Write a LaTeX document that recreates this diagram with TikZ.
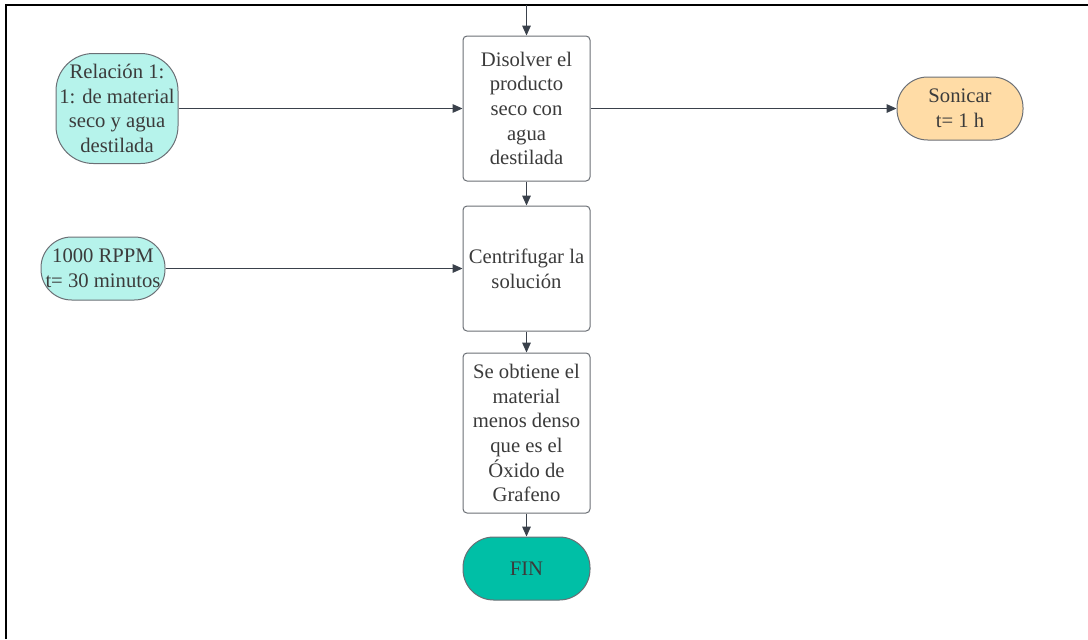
\documentclass[tikz,border=0pt]{standalone}
\usepackage{fontspec}
\setmainfont{Liberation Serif}
\usetikzlibrary{arrows.meta}
\definecolor{strokec}{HTML}{6B6F75}
\definecolor{arrowc}{HTML}{3A414B}
\definecolor{textc}{HTML}{3B3B3B}
\definecolor{cyanf}{HTML}{B6F3EB}
\definecolor{orangef}{HTML}{FFDCA6}
\definecolor{tealf}{HTML}{00BFA6}
\tikzset{
  base/.style={draw=strokec, line width=0.75pt, text=textc, align=center, inner sep=0pt,
    font=\fontsize{15.5}{18.5}\selectfont},
  procbox/.style={base, rounded corners=3pt, minimum width=95.25pt, fill=white},
  pill/.style={base, rounded corners=23pt, minimum height=47.25pt},
  arr/.style={draw=arrowc, line width=0.75pt, -{Triangle[length=7.5pt,width=6.5pt]}},
}
\begin{document}
\begin{tikzpicture}[x=0.75pt,y=-0.75pt]
\useasboundingbox (0,0) rectangle (1088,639);
\draw[black, line width=1.6pt] (6,639) -- (6,5) -- (1088,5);
\coordinate (top) at (526.5,5);
\node[procbox, minimum height=108.75pt] (b1) at (526.5,108.5) {Disolver el\\producto\\seco con\\agua\\destilada};
\node[procbox, minimum height=93.75pt] (b2) at (526.5,268.5) {Centrifugar la\\soluci\'on};
\node[procbox, minimum height=120pt] (b3) at (526.5,433) {Se obtiene el\\material\\menos denso\\que es el\\\'Oxido de\\Grafeno};
\node[pill, fill=tealf, minimum width=95.25pt] (fin) at (526.5,568.5) {FIN};
\node[base, fill=cyanf, rounded corners=28pt, minimum width=91.5pt, minimum height=82.5pt] (rel) at (117,108.5) {Relaci\'on 1:\\1: de material\\seco y agua\\destilada};
\node[pill, fill=cyanf, minimum width=93pt] (rpm) at (103,268.5) {1000 RPPM\\t= 30 minutos};
\node[pill, fill=orangef, minimum width=94.5pt] (son) at (960,108.5) {Sonicar\\t= 1 h};
\draw[arr] (top) -- (b1.north);
\draw[arr] (b1.south) -- (b2.north);
\draw[arr] (b2.south) -- (b3.north);
\draw[arr] (b3.south) -- (fin.north);
\draw[arr] (rel.east) -- (b1.west);
\draw[arr] (b1.east) -- (son.west);
\draw[arr] (rpm.east) -- (b2.west);
\end{tikzpicture}
\end{document}
